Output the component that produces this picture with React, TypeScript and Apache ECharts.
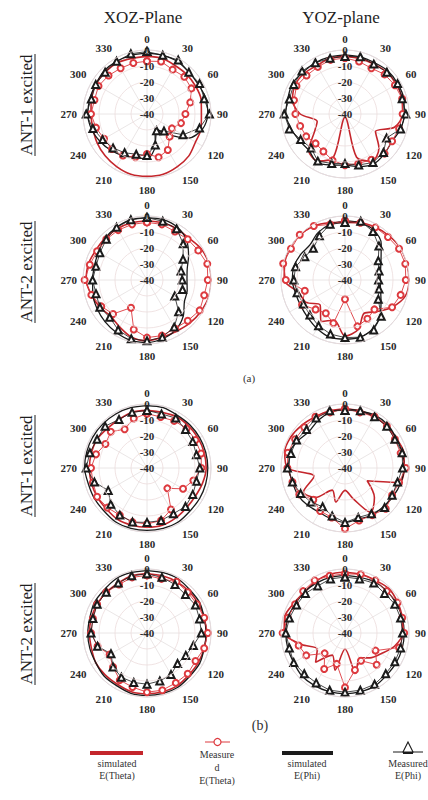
import React, { useEffect, useRef } from "react";
import * as echarts from "echarts";

// ---------- data ----------
const ANGLES = [0, 15, 30, 45, 60, 75, 90, 105, 120, 135, 150, 165, 180, 195, 210, 225, 240, 255, 270, 285, 300, 315, 330, 345];
const RADIAL_MIN = -40;
const RADIAL_MAX = 0;
const RADIAL_STEP = 10;
const ANGLE_STEP = 30;

const PLOT_TITLES = ["XOZ-Plane", "YOZ-plane"];
const ROW_LABELS = ["ANT-1 excited", "ANT-2 excited", "ANT-1 excited", "ANT-2 excited"];
const PANEL_LABELS = ["(a)", "(b)"];
const LEGEND_LABELS = ["simulated\nE(Theta)", "Measure\nd\nE(Theta)", "simulated\nE(Phi)", "Measured\nE(Phi)"];

// (a) ANT-1, XOZ
const P1_SIM_THETA = [-4, -4, -5, -5, -5, -5, -6, -5, -5, -3, -2, -1, -1, -1, -2, -3, -4, -5, -5, -4, -3, -3, -3, -4];
const P1_MEAS_THETA = [-7, -6, -8, -7, -8, -12, -16, -18, -22, -20, -14, -12, -15, -12, -10, -9, -9, -7, -5, -6, -5, -6, -7, -7];
const P1_SIM_PHI = [-2, -2, -2, -3, -3, -2, -2, -4, -10, -22, -30, -20, -12, -12, -10, -8, -6, -4, -3, -3, -3, -2, -2, -2];
const P1_MEAS_PHI = [-1, -2, -1, -3, -2, -3, -1, -6, -14, -25, -28, -20, -14, -14, -12, -10, -8, -5, -2, -4, -3, -3, -2, -1];
// (a) ANT-1, YOZ
const P2_SIM_THETA = [-4, -4, -4, -3, -3, -3, -4, -8, -18, -10, -6, -12, -38, -12, -6, -8, -18, -22, -12, -6, -4, -4, -5, -4];
const P2_MEAS_THETA = [-5, -6, -7, -5, -4, -3, -4, -5, -6, -5, -7, -8, -8, -10, -13, -14, -12, -11, -9, -7, -5, -6, -6, -5];
const P2_SIM_PHI = [-3, -3, -3, -2, -2, -2, -3, -4, -6, -5, -4, -6, -8, -7, -5, -8, -7, -5, -3, -3, -2, -3, -3, -3];
const P2_MEAS_PHI = [-4, -3, -4, -3, -2, -3, -2, -4, -10, -6, -5, -7, -9, -8, -6, -10, -8, -4, -2, -4, -3, -2, -3, -4];
// (a) ANT-2, XOZ
const P3_SIM_THETA = [-3, -3, -3, -3, -1, 0, 0, 0, -1, -2, -3, -3, -2, -3, -6, -8, -6, -4, -2, -2, -3, -3, -3, -3];
const P3_MEAS_THETA = [-4, -4, -5, -4, -3, -1, -2, -3, -2, -4, -5, -4, -4, -8, -20, -10, -7, -4, -1, -3, -4, -4, -4, -4];
const P3_SIM_PHI = [-1, -1, -2, -5, -10, -14, -15, -14, -13, -8, -4, -2, -1, -1, -2, -3, -4, -5, -6, -6, -5, -3, -2, -1];
const P3_MEAS_PHI = [-1, -2, -3, -8, -14, -18, -18, -17, -20, -12, -6, -3, -2, -2, -4, -7, -6, -7, -6, -7, -6, -4, -2, -1];
// (a) ANT-2, YOZ
const P4_SIM_THETA = [-4, -3, -2, -1, 0, 0, 0, -1, -6, -12, -16, -8, -5, -14, -10, -18, -12, -10, -2, -1, 0, 0, -1, -3];
const P4_MEAS_THETA = [-3, -3, -2, -2, -1, -1, -2, -4, -6, -14, -12, -10, -28, -12, -16, -14, -9, -14, -3, 0, -1, 0, -1, -4];
const P4_SIM_PHI = [-3, -3, -4, -8, -14, -17, -18, -17, -14, -9, -5, -3, -3, -3, -5, -7, -8, -8, -7, -7, -8, -9, -6, -4];
const P4_MEAS_PHI = [-4, -2, -5, -10, -16, -18, -19, -18, -16, -8, -4, -3, -4, -5, -7, -9, -10, -9, -8, -8, -11, -12, -8, -4];
// (b) ANT-1, XOZ
const P5_SIM_THETA = [-4, -4, -3, -3, -3, -3, -3, -4, -5, -5, -4, -3, -3, -3, -3, -4, -4, -4, -4, -4, -4, -5, -5, -4];
const P5_MEAS_THETA = [-6, -7, -6, -5, -5, -5, -6, -10, -14, -22, -10, -6, -5, -5, -6, -5, -4, -5, -5, -7, -10, -8, -12, -8];
const P5_SIM_PHI = [-1, -1, -2, -2, -2, -2, -2, -2, -2, -2, -1, -1, -1, -1, -1, -2, -2, -2, -1, -1, -1, -1, -1, -1];
const P5_MEAS_PHI = [-4, -5, -4, -6, -7, -8, -7, -8, -7, -6, -7, -6, -6, -5, -6, -8, -12, -6, -2, -3, -4, -3, -5, -4];
// (b) ANT-1, YOZ
const P6_SIM_THETA = [-3, -3, -3, -3, -3, -2, -3, -5, -24, -14, -8, -20, -26, -18, -24, -14, -10, -20, -4, -1, -1, -2, -3, -3];
const P6_MEAS_THETA = [-3, -4, -3, -3, -4, -4, -2, -5, -6, -4, -6, -6, -2, -8, -9, -12, -7, -6, -4, -3, -4, -4, -3, -4];
const P6_SIM_PHI = [-3, -3, -2, -2, -3, -3, -3, -4, -5, -6, -6, -7, -6, -7, -8, -7, -6, -6, -5, -4, -6, -8, -6, -4];
const P6_MEAS_PHI = [-4, -3, -3, -3, -4, -3, -4, -6, -6, -5, -7, -8, -6, -9, -12, -10, -8, -6, -4, -5, -5, -6, -4, -3];
// (b) ANT-2, XOZ
const P7_SIM_THETA = [-3, -3, -3, -3, -3, -3, -3, -3, -3, -3, -2, -2, -2, -2, -3, -3, -3, -4, -4, -4, -4, -4, -4, -3];
const P7_MEAS_THETA = [-4, -5, -3, -4, -4, -3, -2, -3, -5, -4, -4, -3, -3, -5, -6, -10, -13, -8, -5, -5, -4, -4, -5, -4];
const P7_SIM_PHI = [-1, -1, -1, -2, -2, -3, -3, -3, -2, -2, -1, -1, -1, -1, -2, -2, -3, -3, -3, -3, -2, -2, -1, -1];
const P7_MEAS_PHI = [-3, -4, -5, -6, -5, -6, -6, -10, -12, -13, -10, -9, -8, -8, -8, -10, -14, -8, -5, -5, -4, -4, -4, -3];
// (b) ANT-2, YOZ
const P8_SIM_THETA = [-2, -2, -2, -1, -2, -3, -4, -8, -14, -18, -22, -14, -30, -16, -24, -14, -20, -12, -2, -1, -3, -4, -3, -2];
const P8_MEAS_THETA = [-3, -2, -2, -3, -2, -3, -3, -5, -18, -12, -20, -16, -6, -20, -14, -22, -12, -10, -1, -3, -4, -3, -2, -3];
const P8_SIM_PHI = [-4, -4, -3, -3, -3, -3, -3, -3, -3, -3, -2, -2, -2, -2, -2, -2, -3, -3, -3, -3, -4, -4, -4, -4];
const P8_MEAS_PHI = [-5, -5, -4, -5, -4, -4, -4, -4, -4, -4, -3, -3, -3, -3, -4, -4, -3, -4, -3, -4, -5, -5, -6, -5];

const PLOT_DATA = [
  [P1_SIM_THETA, P1_MEAS_THETA, P1_SIM_PHI, P1_MEAS_PHI],
  [P2_SIM_THETA, P2_MEAS_THETA, P2_SIM_PHI, P2_MEAS_PHI],
  [P3_SIM_THETA, P3_MEAS_THETA, P3_SIM_PHI, P3_MEAS_PHI],
  [P4_SIM_THETA, P4_MEAS_THETA, P4_SIM_PHI, P4_MEAS_PHI],
  [P5_SIM_THETA, P5_MEAS_THETA, P5_SIM_PHI, P5_MEAS_PHI],
  [P6_SIM_THETA, P6_MEAS_THETA, P6_SIM_PHI, P6_MEAS_PHI],
  [P7_SIM_THETA, P7_MEAS_THETA, P7_SIM_PHI, P7_MEAS_PHI],
  [P8_SIM_THETA, P8_MEAS_THETA, P8_SIM_PHI, P8_MEAS_PHI],
];

// ---------- layout & style ----------
const COL_X = [147, 345];
const ROW_Y = [114, 280, 468, 633];
const RADIUS = 64;
const RED = "#c4262c";
const RED_MEAS = "#dd3a3f";
const BLACK = "#1b1b1b";
const SERIF = '"Liberation Serif", "DejaVu Serif", serif';

function closed(values: number[]) {
  const pts = values.map((v, i) => [v, ANGLES[i]]);
  pts.push([values[0], 360]);
  return pts;
}

function buildOption() {
  const polar: any[] = [];
  const angleAxis: any[] = [];
  const radiusAxis: any[] = [];
  const series: any[] = [];
  PLOT_DATA.forEach((plot, i) => {
    const cx = COL_X[i % 2];
    const cy = ROW_Y[Math.floor(i / 2)];
    polar.push({ center: [cx, cy], radius: RADIUS });
    angleAxis.push({
      polarIndex: i,
      type: "value",
      min: 0,
      max: 360,
      interval: ANGLE_STEP,
      startAngle: 90,
      clockwise: true,
      axisLine: { show: true, lineStyle: { color: "#cfd3da", width: 1 } },
      axisTick: { show: false },
      axisLabel: {
        margin: 6,
        color: "#2a2a2a",
        fontFamily: SERIF,
        fontWeight: "bold",
        fontSize: 11,
        formatter: (v: number) => (v >= 360 ? "" : String(v)),
      },
      splitLine: { show: true, lineStyle: { color: "#e4e0e0", width: 0.8 } },
    });
    radiusAxis.push({
      polarIndex: i,
      type: "value",
      min: RADIAL_MIN,
      max: RADIAL_MAX,
      interval: RADIAL_STEP,
      axisLine: { show: false },
      axisTick: { show: false },
      axisLabel: {
        margin: 0,
        align: "center",
        verticalAlign: "middle",
        color: "#2a2a2a",
        fontFamily: SERIF,
        fontWeight: "bold",
        fontSize: 11,
      },
      splitLine: { show: true, lineStyle: { color: "#ecdcdc", width: 0.8 } },
      z: 5,
    });
    const [st, mt, sp, mp] = plot;
    series.push({
      type: "line", coordinateSystem: "polar", polarIndex: i, name: "simulated E(Theta)",
      data: closed(st), showSymbol: false, smooth: 0.3,
      lineStyle: { color: RED, width: 1.6 }, z: 2,
    });
    series.push({
      type: "line", coordinateSystem: "polar", polarIndex: i, name: "simulated E(Phi)",
      data: closed(sp), showSymbol: false, smooth: 0.3,
      lineStyle: { color: BLACK, width: 1.3 }, z: 3,
    });
    series.push({
      type: "line", coordinateSystem: "polar", polarIndex: i, name: "Measured E(Theta)",
      data: closed(mt), symbol: "emptyCircle", symbolSize: 6,
      lineStyle: { color: RED_MEAS, width: 0.9 },
      itemStyle: { color: RED_MEAS, borderColor: RED_MEAS, borderWidth: 1.2 }, z: 4,
    });
    series.push({
      type: "line", coordinateSystem: "polar", polarIndex: i, name: "Measured E(Phi)",
      data: closed(mp), symbol: "emptyTriangle", symbolSize: 7,
      lineStyle: { color: BLACK, width: 0.8 },
      itemStyle: { color: BLACK, borderColor: BLACK, borderWidth: 1.1 }, z: 4,
    });
  });

  const graphic: any[] = [];
  PLOT_TITLES.forEach((t, c) => {
    graphic.push({
      type: "text", x: COL_X[c] - 4, y: 17,
      style: { text: t, fontFamily: SERIF, fontSize: 17, fill: "#1e1e1e", align: "center", verticalAlign: "middle" },
    });
  });
  const rowLabelY = [105, 272, 466, 634];
  ROW_LABELS.forEach((t, r) => {
    graphic.push({
      type: "text", x: 26, y: rowLabelY[r], rotation: Math.PI / 2,
      style: { text: t, fontFamily: SERIF, fontSize: 17, fill: "#1e1e1e", align: "center", verticalAlign: "middle" },
    });
    graphic.push({
      type: "line",
      shape: { x1: 35, y1: rowLabelY[r] - 51, x2: 35, y2: rowLabelY[r] + 51 },
      style: { stroke: "#1e1e1e", lineWidth: 1 },
    });
  });
  graphic.push({
    type: "text", x: 249, y: 378,
    style: { text: PANEL_LABELS[0], fontFamily: SERIF, fontSize: 11, fill: "#333", align: "center", verticalAlign: "middle" },
  });
  graphic.push({
    type: "text", x: 260, y: 725,
    style: { text: PANEL_LABELS[1], fontFamily: SERIF, fontSize: 14, fill: "#333", align: "center", verticalAlign: "middle" },
  });

  // legend
  const legendText = (x: number, y: number, text: string, lh: number) => ({
    type: "text", x, y,
    style: { text, fontFamily: SERIF, fontSize: 10, lineHeight: lh, fill: "#333", align: "center", verticalAlign: "top" },
  });
  graphic.push({ type: "line", shape: { x1: 90, y1: 753, x2: 143, y2: 753 }, style: { stroke: RED, lineWidth: 4 } });
  graphic.push(legendText(117, 757, LEGEND_LABELS[0], 12));
  graphic.push({ type: "line", shape: { x1: 205, y1: 742, x2: 230, y2: 742 }, style: { stroke: RED_MEAS, lineWidth: 1 } });
  graphic.push({ type: "circle", shape: { cx: 217.5, cy: 742, r: 3.5 }, style: { fill: "#fff", stroke: RED_MEAS, lineWidth: 1.2 } });
  graphic.push(legendText(217, 748, LEGEND_LABELS[1], 13));
  graphic.push({ type: "line", shape: { x1: 282, y1: 753, x2: 333, y2: 753 }, style: { stroke: BLACK, lineWidth: 4 } });
  graphic.push(legendText(307, 757, LEGEND_LABELS[2], 12));
  graphic.push({ type: "line", shape: { x1: 393, y1: 752, x2: 423, y2: 752 }, style: { stroke: BLACK, lineWidth: 1 } });
  graphic.push({ type: "line", shape: { x1: 403, y1: 753, x2: 413, y2: 753 }, style: { stroke: BLACK, lineWidth: 2 } });
  graphic.push({ type: "polygon", shape: { points: [[403, 752], [413, 752], [408, 742]] }, style: { fill: "#fff", stroke: BLACK, lineWidth: 1.1 } });
  graphic.push(legendText(408, 757, LEGEND_LABELS[3], 12));

  return {
    animation: false,
    backgroundColor: "#ffffff",
    polar,
    angleAxis,
    radiusAxis,
    series,
    graphic,
  };
}

export default function App() {
  const ref = useRef<HTMLDivElement>(null);
  useEffect(() => {
    if (!ref.current) return;
    const chart = echarts.init(ref.current, undefined, { renderer: "svg" });
    chart.setOption(buildOption() as any);
    return () => chart.dispose();
  }, []);
  return (
    <div
      ref={ref}
      style={{ position: "fixed", left: 0, top: 0, width: 428, height: 800, background: "#fff" }}
    />
  );
}
